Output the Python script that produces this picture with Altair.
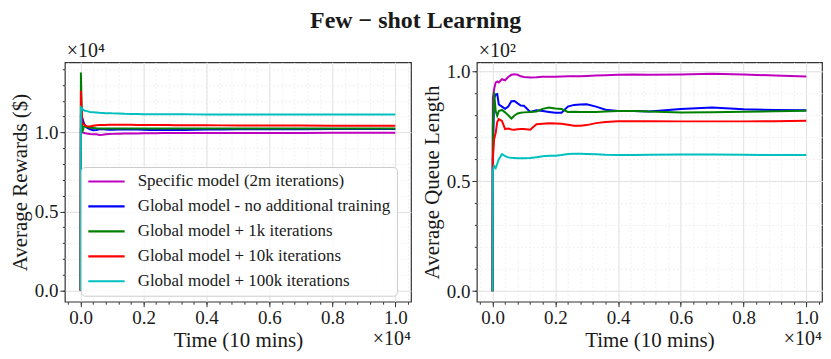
import altair as alt
import pandas as pd

FONT = "Liberation Serif"

SERIES = [
    "Specific model (2m iterations)",
    "Global model - no additional training",
    "Global model + 1k iterations",
    "Global model + 10k iterations",
    "Global model + 100k iterations",
]
COLORS = ["#bf00bf", "#0000ff", "#008000", "#ff0000", "#00bfbf"]

# time steps (units of 10 mins)
T = [0, 10, 50, 100, 150, 200, 300, 400, 500, 600, 700, 800, 900, 1000,
     1200, 1400, 1600, 1800, 2000, 2200, 2400, 2600, 2800, 3000, 3300, 3600,
     4000, 4500, 5000, 6000, 7000, 8000, 9000, 10000]

# Average rewards ($)
REW_SPECIFIC = [0, 10300, 10000, 9980, 9950, 9930, 9900, 9890, 9880, 9840, 9850, 9880, 9900, 9910,
                9920, 9930, 9940, 9940, 9950, 9950, 9955, 9960, 9960, 9960, 9965, 9965,
                9970, 9970, 9970, 9970, 9970, 9975, 9975, 9975]
REW_GLOBAL = [0, 11000, 10950, 10600, 10400, 10300, 10200, 10140, 10160, 10200, 10210, 10180, 10170, 10170,
              10180, 10190, 10200, 10190, 10170, 10160, 10150, 10150, 10150, 10150, 10160, 10170,
              10180, 10190, 10200, 10210, 10210, 10215, 10220, 10220]
REW_1K = [0, 13790, 10000, 10350, 10400, 10350, 10300, 10280, 10260, 10250, 10245, 10250, 10255, 10250,
          10245, 10250, 10255, 10250, 10245, 10250, 10255, 10250, 10250, 10248, 10250, 10252,
          10250, 10250, 10248, 10250, 10252, 10250, 10250, 10250]
REW_10K = [0, 12630, 10600, 10500, 10430, 10400, 10380, 10420, 10460, 10470, 10470, 10475, 10480, 10480,
           10480, 10480, 10480, 10478, 10475, 10472, 10470, 10468, 10465, 10462, 10460, 10455,
           10450, 10448, 10445, 10440, 10435, 10430, 10425, 10420]
REW_100K = [0, 11580, 11500, 11400, 11370, 11350, 11300, 11280, 11260, 11240, 11230, 11220, 11220, 11210,
            11200, 11180, 11170, 11160, 11150, 11150, 11150, 11148, 11146, 11145, 11145, 11144,
            11143, 11142, 11142, 11141, 11140, 11140, 11140, 11140]

# Average queue length
Q_SPECIFIC = [0, 88.0, 92.0, 95.0, 95.5, 95.0, 96.5, 96.0, 97.5, 98.5, 98.8, 98.5, 97.8, 97.5,
              97.3, 97.4, 97.6, 97.6, 97.6, 97.7, 97.8, 97.8, 97.8, 98.0, 98.2, 98.3,
              98.5, 98.6, 98.5, 98.6, 99.0, 98.6, 98.2, 97.7]
Q_GLOBAL = [0, 60.0, 88.0, 89.5, 89.7, 85.0, 84.0, 83.0, 84.0, 86.5, 86.6, 85.5, 84.5, 84.4,
            81.6, 82.4, 82.0, 81.6, 81.2, 81.2, 84.0, 84.8, 85.0, 85.1, 84.0, 82.6,
            82.0, 82.0, 81.8, 82.9, 83.6, 82.8, 82.5, 82.4]
Q_1K = [0, 75.0, 90.5, 82.0, 79.8, 82.0, 82.5, 81.4, 80.1, 78.6, 80.0, 80.9, 81.2, 81.4,
        81.6, 81.8, 83.0, 83.6, 83.2, 82.9, 81.6, 81.7, 81.6, 81.6, 81.6, 81.8,
        82.0, 82.0, 81.8, 81.3, 81.5, 81.7, 81.9, 82.1]
Q_10K = [0, 60.1, 69.2, 72.0, 77.0, 78.3, 77.5, 73.8, 74.0, 73.6, 73.5, 73.7, 73.8, 73.8,
         73.5, 76.0, 76.2, 76.4, 76.3, 76.2, 75.8, 75.3, 75.3, 75.6, 76.5, 77.0,
         77.4, 77.4, 77.4, 77.3, 77.3, 77.3, 77.4, 77.6]
Q_100K = [0, 55.0, 57.0, 56.0, 58.0, 60.0, 62.4, 61.5, 60.9, 60.7, 60.6, 60.5, 60.5, 60.5,
          60.6, 61.0, 61.4, 61.6, 61.7, 62.0, 62.4, 62.6, 62.6, 62.5, 62.3, 62.1,
          62.0, 62.0, 62.1, 62.2, 62.2, 62.1, 62.0, 62.0]

X_MAJOR = [0, 2000, 4000, 6000, 8000, 10000]
X_MINOR = [i * 400 for i in range(-1, 27)]
REW_MAJOR = [0, 5000, 10000]
REW_MINOR = [i * 1000 for i in range(0, 15)]
Q_MAJOR = [0, 50, 100]
Q_MINOR = [i * 10 for i in range(0, 11)]

GRID_MAJOR = "#e2e2e2"
GRID_MINOR = "#f0f0f0"
INK = "#1a1a1a"


def panel(series_vals, ydom, ymajor, yminor, ydiv, ytitle, ynote, width, legend):
    rows = []
    for name, vals in zip(SERIES, series_vals):
        for t, v in zip(T, vals):
            rows.append({"t": t, "v": v, "series": name})
    df = pd.DataFrame(rows)
    xs = alt.Scale(domain=[-500, 10500], nice=False, zero=False)
    ys = alt.Scale(domain=ydom, nice=False, zero=False)
    base = alt.Chart(df)
    minor = base.mark_point(opacity=0).encode(
        x=alt.X("t:Q", scale=xs, axis=alt.Axis(values=X_MINOR, labels=False, title=None, domain=False,
                                               tickSize=2.5, tickColor="#333333", grid=True,
                                               gridColor=GRID_MINOR, gridDash=[2, 2], orient="bottom")),
        y=alt.Y("v:Q", scale=ys, axis=alt.Axis(values=yminor, labels=False, title=None, domain=False,
                                               tickSize=2.5, tickColor="#333333", grid=True,
                                               gridColor=GRID_MINOR, gridDash=[2, 2], orient="left")),
    )
    lines = base.mark_line(strokeWidth=2).encode(
        x=alt.X("t:Q", scale=xs, axis=alt.Axis(values=X_MAJOR, labelExpr="format(datum.value/10000, '.1f')",
                                               title="Time (10 mins)", domain=False, tickSize=5,
                                               tickColor="#333333", grid=True, gridColor=GRID_MAJOR,
                                               labelPadding=2, titlePadding=2, orient="bottom")),
        y=alt.Y("v:Q", scale=ys, axis=alt.Axis(values=ymajor,
                                               labelExpr="format(datum.value/%d, '.1f')" % ydiv,
                                               title=ytitle, domain=False, tickSize=5,
                                               tickColor="#333333", grid=True, gridColor=GRID_MAJOR,
                                               labelPadding=2, titlePadding=4, orient="left")),
        color=alt.Color("series:N", scale=alt.Scale(domain=SERIES, range=COLORS), legend=legend),
    )
    note_top = alt.Chart(pd.DataFrame({"s": [ynote]})).mark_text(
        align="left", baseline="alphabetic", font=FONT, fontSize=20, color=INK
    ).encode(x=alt.value(2), y=alt.value(-5), text="s:N")
    note_bottom = alt.Chart(pd.DataFrame({"s": ["×10⁴"]})).mark_text(
        align="right", baseline="alphabetic", font=FONT, fontSize=20, color=INK
    ).encode(x=alt.value(width), y=alt.value(283), text="s:N")
    return alt.layer(minor, lines, note_top, note_bottom).resolve_axis(
        x="independent", y="independent"
    ).properties(width=width, height=240)


# legend line symbol: path in the [-1, 1] box, scaled by sqrt(size)/2
legend = alt.Legend(orient="none", legendX=16, legendY=105, title=None,
                    symbolType="M-1,0H4.2", symbolSize=196, symbolStrokeWidth=2.2,
                    symbolFillColor="transparent",
                    labelFont=FONT, labelFontSize=17, labelColor=INK, labelOffset=34,
                    rowPadding=7, padding=6, strokeColor="#cccccc",
                    fillColor="rgba(255,255,255,0.8)", cornerRadius=4, labelLimit=0)

left = panel([REW_SPECIFIC, REW_GLOBAL, REW_1K, REW_10K, REW_100K], [-710, 14440],
             REW_MAJOR, REW_MINOR, 10000, "Average Rewards ($)", "×10⁴", 347, legend)
right = panel([Q_SPECIFIC, Q_GLOBAL, Q_1K, Q_10K, Q_100K], [-4.8, 104.2],
              Q_MAJOR, Q_MINOR, 100, "Average Queue Length", "×10²", 346, None)

chart = alt.hconcat(left, right, spacing=66, bounds="flush").resolve_scale(
    color="independent"
).resolve_legend(color="independent").properties(
    title=alt.Title("Few − shot Learning", font=FONT, fontSize=24, fontWeight="bold",
                    anchor="middle", frame="bounds", offset=8, color=INK),
    padding=0,
).configure_view(stroke="#333333", strokeWidth=1.2).configure_axis(
    labelFont=FONT, labelFontSize=19, labelColor=INK, titleFont=FONT, titleFontSize=21,
    titleFontWeight="normal", titleColor=INK
)

chart.save("out.html", embed_options={"renderer": "svg", "actions": False})
